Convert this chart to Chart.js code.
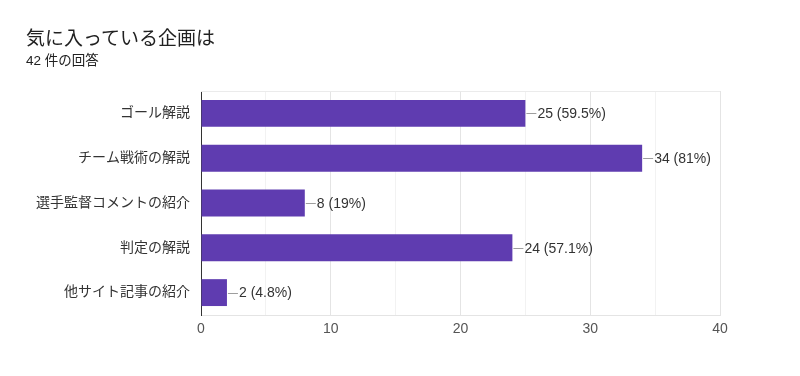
<!DOCTYPE html>
<html>
<head>
<meta charset="utf-8">
<script src="https://cdn.jsdelivr.net/npm/chart.js@4"></script>
<style>
  body { margin: 0; background: #fff; }
  #wrap { position: relative; width: 800px; height: 376px; }
  #title { position: absolute; left: 26px; top: 23px; font: 19px "Liberation Sans", "Noto Sans CJK JP", sans-serif; color: #212121; }
  #sub { position: absolute; left: 26px; top: 49px; font: 13.5px "Liberation Sans", "Noto Sans CJK JP", sans-serif; color: #212121; }
</style>
</head>
<body>
<div id="wrap">
  <canvas id="chart" width="800" height="376"></canvas>
  <div id="title">気に入っている企画は</div>
  <div id="sub">42 件の回答</div>
</div>
<script>
let categories = ["ゴール解説", "チーム戦術の解説", "選手監督コメントの紹介", "判定の解説", "他サイト記事の紹介"];
let counts = [25, 34, 8, 24, 2];
let percents = ["59.5%", "81%", "19%", "57.1%", "4.8%"];
let xTicks = [0, 10, 20, 30, 40];

const FONT = "'Liberation Sans', 'Noto Sans CJK JP', sans-serif";

// value labels with a short connector line, Google Forms style
const valueLabels = {
    id: "valueLabels",
    afterDatasetsDraw(chart) {
        let ctx = chart.ctx;
        let meta = chart.getDatasetMeta(0);
        ctx.save();
        ctx.font = "14px " + FONT;
        ctx.textBaseline = "middle";
        meta.data.forEach((bar, i) => {
            ctx.strokeStyle = "#9e9e9e";
            ctx.lineWidth = 1;
            ctx.beginPath();
            ctx.moveTo(bar.x + 1, Math.round(bar.y) + 0.5);
            ctx.lineTo(bar.x + 11, Math.round(bar.y) + 0.5);
            ctx.stroke();
            ctx.fillStyle = "#333";
            ctx.fillText(counts[i] + " (" + percents[i] + ")", bar.x + 12, bar.y + 1);
        });
        // faint top border of plot
        let a = chart.chartArea;
        ctx.strokeStyle = "#ebebeb";
        ctx.beginPath();
        ctx.moveTo(a.left, a.top + 0.5);
        ctx.lineTo(a.right, a.top + 0.5);
        ctx.stroke();
        ctx.restore();
    }
};

let ctx = document.getElementById("chart").getContext("2d");

let chart = new Chart(ctx, {
    type: "bar",
    data: {
        labels: categories,
        datasets: [{
            data: counts,
            backgroundColor: "#5f3cb0",
            barPercentage: 0.6,
            categoryPercentage: 1.0
        }]
    },
    options: {
        indexAxis: "y",
        responsive: false,
        animation: false,
        layout: { padding: { top: 91, right: 80, left: 0, bottom: 0 } },
        plugins: {
            legend: { display: false },
            tooltip: { enabled: false }
        },
        scales: {
            x: {
                min: xTicks[0],
                max: xTicks[xTicks.length - 1],
                ticks: {
                    stepSize: 5,
                    color: "#555",
                    padding: 6,
                    font: { family: FONT, size: 14 },
                    callback: v => xTicks.includes(v) ? v : ""
                },
                grid: {
                    drawTicks: false,
                    color: c => (c.tick && c.tick.value % 10 === 0) ? "#e4e4e4" : "#f2f2f2"
                },
                border: { color: "#e4e4e4" },
                afterFit: s => { s.height = 61; }
            },
            y: {
                ticks: {
                    color: "#333",
                    padding: 11,
                    font: { family: FONT, size: 14 }
                },
                grid: { display: false, drawTicks: false },
                border: { color: "#333", width: 1 },
                afterFit: s => { s.width = 201; }
            }
        }
    },
    plugins: [valueLabels]
});
</script>
</body>
</html>
